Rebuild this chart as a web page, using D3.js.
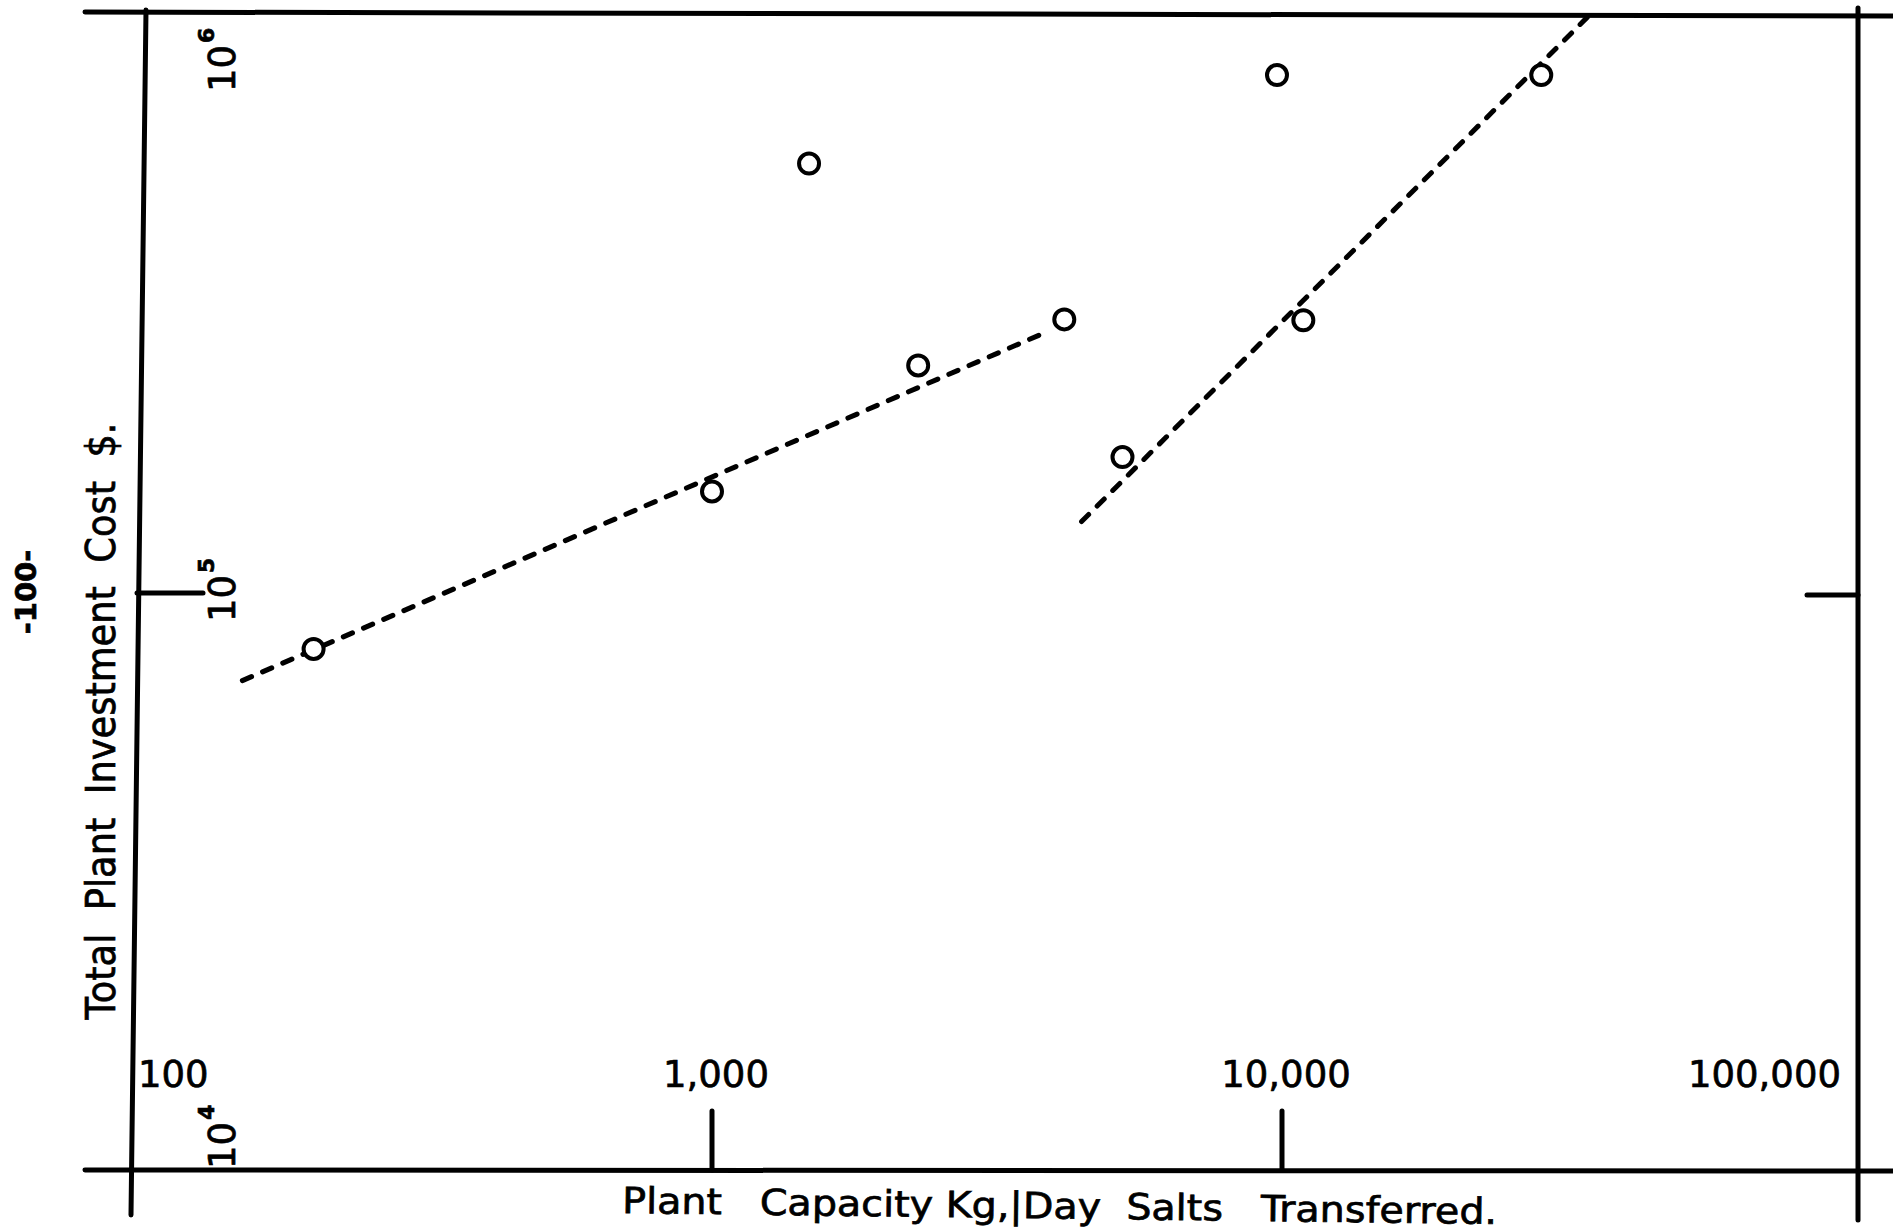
<!DOCTYPE HTML>
<html>
<head>
    <title>Total Plant Investment Cost</title>
    <script type="text/javascript" src="https://cdn.jsdelivr.net/npm/d3@7/dist/d3.min.js"></script>
    <style>
        body {
            margin: 0;
            background-color: white;
        }
        .paint-board {
            display: block;
            background-color: white;
        }
        text {
            font-family: "DejaVu Sans", sans-serif;
            fill: black;
            stroke: black;
            stroke-width: 0.7;
            white-space: pre;
        }
        .frame {
            stroke: black;
            stroke-width: 5;
            stroke-linecap: round;
            fill: none;
        }
        .fit-line {
            stroke: black;
            stroke-width: 5;
            stroke-dasharray: 10, 12;
            stroke-linecap: round;
            fill: none;
        }
        .dot {
            stroke: black;
            stroke-width: 4;
            fill: white;
        }
    </style>
</head>

<body>
    <div id="panel"></div>

    <script>
        var panel_width = 1893;
        var panel_height = 1231;

        // plant capacity, kg/day salts transferred
        var capacity = [200, 1000, 1480, 2300, 4150, 5250, 9800, 10900, 28500];
        // total plant investment cost, $
        var cost = [80000, 150000, 555000, 248000, 298000, 172000, 790000, 297000, 790000];

        // dashed trend lines, [capacity, cost] at each end
        var line_low = [[150, 70500], [3850, 283000]];
        var line_high = [[4450, 133000], [34500, 1000000]];

        var x_ticks = [100, 1000, 10000, 100000];
        var x_tick_labels = ["100", "1,000", "10,000", "100,000"];
        var y_ticks = [10000, 100000, 1000000];
        var y_tick_exps = ["4", "5", "6"];

        var x_title = "Plant   Capacity Kg,|Day  Salts   Transferred.";
        var y_title = "Total  Plant  Investment  Cost  $.";
        var page_number = "-100-";

        var svgContainer = d3.select("#panel").append("svg")
                                                .attr("width", panel_width)
                                                .attr("height", panel_height)
                                                .attr("class", "paint-board");

        var x = d3.scaleLog().domain([100, 100000]).range([142, 1852]);
        var y = d3.scaleLog().domain([10000, 1000000]).range([1170, 16]);

        function draw_line(p1, p2, cls)
        {
            svgContainer.append("line")
                        .attr("x1", p1[0])
                        .attr("y1", p1[1])
                        .attr("x2", p2[0])
                        .attr("y2", p2[1])
                        .attr("class", cls);
        }

        function draw_frame()
        {
            var left = x(100), right = x(100000);
            var top = y(1000000), bottom = y(10000);
            // hand ruled box, the left rule leans a little
            draw_line([85, top - 4], [panel_width, top], "frame");
            draw_line([85, bottom], [panel_width, bottom + 1], "frame");
            draw_line([left + 4, top - 6], [left - 11, bottom + 45], "frame");
            draw_line([right + 6, top - 8], [right + 6, bottom + 50], "frame");

            // decade ticks
            draw_line([left - 5, y(100000)], [left + 61, y(100000)], "frame");
            draw_line([right - 45, y(100000) + 2], [right + 6, y(100000) + 2], "frame");
            x_ticks.slice(1, 3).forEach(function(v){
                draw_line([x(v), bottom - 59], [x(v), bottom], "frame");
            });
        }

        function draw_tick_labels()
        {
            var last = x_ticks.length - 1;
            x_ticks.forEach(function(v, i){
                var anchor = i == 0 ? "start" : (i == last ? "end" : "middle");
                var shift = i == 0 ? -4 : (i == last ? -11 : 4);
                svgContainer.append("text")
                            .attr("x", x(v) + shift)
                            .attr("y", y(10000) - 83)
                            .attr("text-anchor", anchor)
                            .attr("font-size", 37)
                            .text(x_tick_labels[i]);
            });

            // powers of ten, written up the page inside the box
            y_ticks.forEach(function(v, i){
                var start = Math.min(Math.max(y(v) + 29, y(1000000) + 76), y(10000) - 1);
                var label = svgContainer.append("text")
                                        .attr("transform", "translate(235," + start + ") rotate(-90)")
                                        .attr("font-size", 37);
                label.append("tspan").text("10");
                label.append("tspan")
                     .attr("dx", 2)
                     .attr("dy", -21)
                     .attr("font-size", 22)
                     .attr("font-weight", "bold")
                     .text(y_tick_exps[i]);
            });
        }

        function draw_titles()
        {
            svgContainer.append("text")
                        .attr("transform", "translate(622,1213) rotate(0.72)")
                        .attr("font-size", 36)
                        .attr("textLength", 875)
                        .attr("lengthAdjust", "spacingAndGlyphs")
                        .text(x_title);

            svgContainer.append("text")
                        .attr("transform", "translate(115,721) rotate(-90)")
                        .attr("text-anchor", "middle")
                        .attr("font-size", 40)
                        .attr("textLength", 597)
                        .attr("lengthAdjust", "spacingAndGlyphs")
                        .text(y_title);

            svgContainer.append("text")
                        .attr("transform", "translate(36,592) rotate(-90)")
                        .attr("text-anchor", "middle")
                        .attr("font-family", "Liberation Serif")
                        .attr("font-weight", "bold")
                        .attr("stroke-width", 0)
                        .attr("font-size", 29)
                        .text(page_number);
        }

        function draw_data()
        {
            var line = d3.line()
                         .x(function(d){ return x(d[0]); })
                         .y(function(d){ return y(d[1]); });

            [line_low, line_high].forEach(function(pts){
                svgContainer.append("path")
                            .attr("d", line(pts))
                            .attr("class", "fit-line");
            });

            svgContainer.selectAll(".dot")
                        .data(d3.zip(capacity, cost))
                        .enter()
                        .append("circle")
                        .attr("class", "dot")
                        .attr("cx", function(d){ return x(d[0]); })
                        .attr("cy", function(d){ return y(d[1]); })
                        .attr("r", 10);
        }

        draw_frame();
        draw_data();
        draw_tick_labels();
        draw_titles();
    </script>
</body>
</html>
